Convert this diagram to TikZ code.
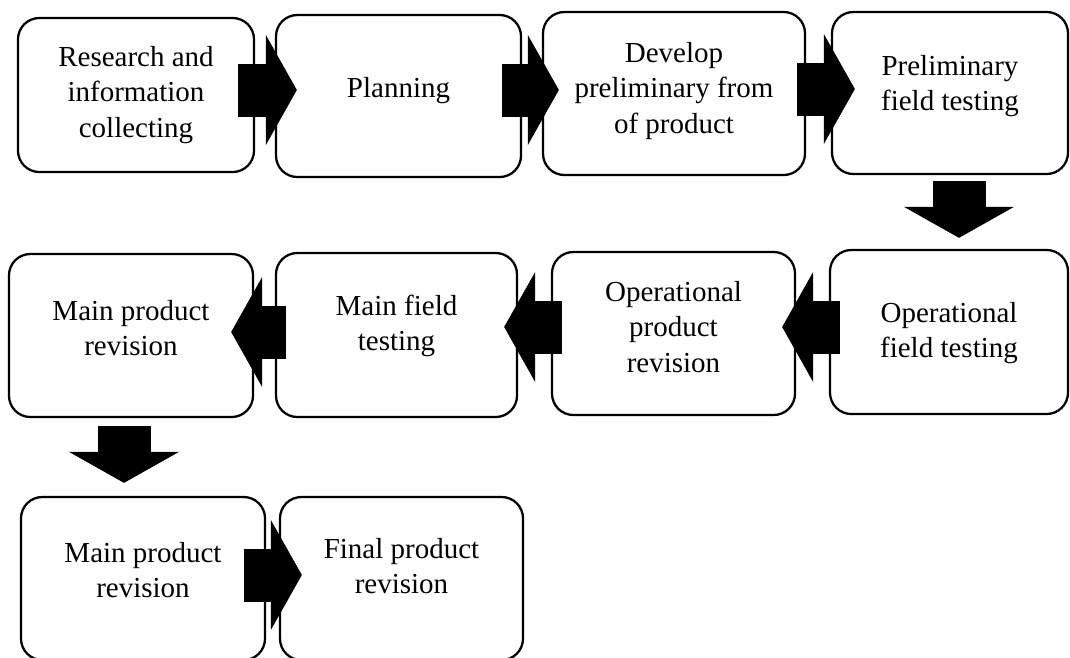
\documentclass[tikz,border=0pt]{standalone}
\usepackage{fontspec}
\setmainfont{Liberation Serif}
\usetikzlibrary{arrows.meta,calc}
\begin{document}
\begin{tikzpicture}[x=0.75pt,y=-0.75pt,
  stepbox/.style={draw=black, line width=1.7pt, rounded corners=16pt, fill=white, inner sep=0pt},
  txt/.style={align=center, font=\fontsize{21.75pt}{26.6pt}\selectfont, inner sep=0pt},
  barrow/.style={draw=black, line width=39.75pt, -{Triangle[length=23.25pt,width=82.5pt,line width=0pt]}}
]
\useasboundingbox (0,0) rectangle (1070,657);
\clip (0,0) rectangle (1070,657);
% boxes
\node[stepbox, minimum width=177pt, minimum height=115.5pt] (b1) at (136,95) {};
\node[stepbox, minimum width=183.75pt, minimum height=121.5pt] (b2) at (398.5,96) {};
\node[stepbox, minimum width=196.5pt, minimum height=122.25pt] (b3) at (674,93.5) {};
\node[stepbox, minimum width=177pt, minimum height=121.5pt] (b4) at (950,93) {};
\node[stepbox, minimum width=183pt, minimum height=122.25pt] (r21) at (131,335.5) {};
\node[stepbox, minimum width=180.75pt, minimum height=123pt] (r22) at (396.5,335) {};
\node[stepbox, minimum width=182.25pt, minimum height=122.25pt] (r23) at (673.5,333.5) {};
\node[stepbox, minimum width=178.5pt, minimum height=123pt] (r24) at (949,332) {};
\node[stepbox, minimum width=183pt, minimum height=122.25pt] (r31) at (143,578.5) {};
\node[stepbox, minimum width=182.25pt, minimum height=122.25pt] (r32) at (401.5,578.5) {};
% texts
\node[txt] (t1) at ($(b1.center)+(0,0)$) {Research and\\information\\collecting};
\node[txt] (t2) at ($(b2.center)+(0,-5)$) {Planning};
\node[txt] (t3) at ($(b3.center)+(0,-2.5)$) {Develop\\preliminary from\\of product};
\node[txt] (t4) at ($(b4.center)+(0,-7)$) {Preliminary\\field testing};
\node[txt] (t21) at ($(r21.center)+(0,-7.5)$) {Main product\\revision};
\node[txt] (t22) at ($(r22.center)+(0,-9)$) {Main field\\testing};
\node[txt] (t23) at ($(r23.center)+(0,-6.5)$) {Operational\\product\\revision};
\node[txt] (t24) at ($(r24.center)+(0,1)$) {Operational\\field testing};
\node[txt] (t31) at ($(r31.center)+(0,-8.5)$) {Main product\\revision};
\node[txt] (t32) at ($(r32.center)+(0,-12.5)$) {Final product\\revision};
% block arrows
\draw[barrow] ($(b1.east)+(-17,-5)$) -- ($(b2.west)+(22,-6)$);
\draw[barrow] ($(b2.east)+(-20,-6)$) -- ($(b3.west)+(17,-3.5)$);
\draw[barrow] ($(b3.east)+(-9,-4.5)$) -- ($(b4.west)+(24,-4)$);
\draw[barrow] ($(b4.south)+(9,6)$) -- ($(r24.north)+(10,-11)$);
\draw[barrow] ($(r24.west)+(11,-5)$) -- ($(r23.east)+(-14,-6.5)$);
\draw[barrow] ($(r23.west)+(11,-6.5)$) -- ($(r22.east)+(-14,-8)$);
\draw[barrow] ($(r22.west)+(11,-3)$) -- ($(r21.east)+(-23,-3.5)$);
\draw[barrow] ($(r21.south)+(-7,8)$) -- ($(r31.north)+(-19,-13)$);
\draw[barrow] ($(r31.east)+(-22,-3.5)$) -- ($(r32.west)+(23,-3.5)$);
\end{tikzpicture}
\end{document}
